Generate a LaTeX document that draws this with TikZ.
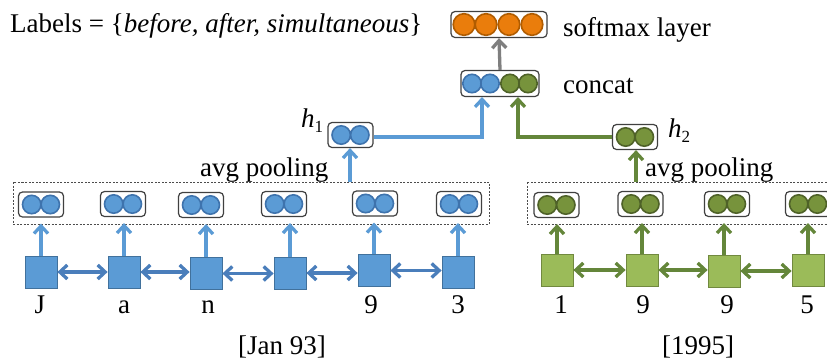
\documentclass[tikz,border=0pt]{standalone}
\usepackage{fontspec}
\setmainfont{Liberation Serif}
\usetikzlibrary{arrows.meta}
\definecolor{blueF}{HTML}{5B9BD5}
\definecolor{blueD}{HTML}{41719C}
\definecolor{blueA}{HTML}{4A7EBB}
\definecolor{blueC}{HTML}{3E73AD}
\definecolor{greenF}{HTML}{9BBB59}
\definecolor{greenD}{HTML}{71893F}
\definecolor{greenA}{HTML}{64863A}
\definecolor{greenC}{HTML}{77933C}
\definecolor{greenCD}{HTML}{4F6228}
\definecolor{orF}{HTML}{EA7D0C}
\definecolor{orD}{HTML}{B05C00}
\definecolor{grayA}{HTML}{7F7F7F}
\tikzset{
  txt/.style={font=\fontsize{27}{30}\selectfont, inner sep=0pt, anchor=base},
  vbox/.style={draw=black!75, fill=white, rounded corners=4pt, line width=1.2pt, minimum height=25pt, inner sep=0pt},
  pairbox/.style={vbox, minimum width=45pt},
  sqb/.style={draw=blueD, fill=blueF, line width=0.8pt, minimum size=32pt, inner sep=0pt},
  sqg/.style={draw=greenD, fill=greenF, line width=0.8pt, minimum size=32pt, inner sep=0pt},
  tip/.style={-{Straight Barb[length=7.5pt,width=14pt]}},
  dtip/.style={{Straight Barb[length=7.5pt,width=14pt]}-{Straight Barb[length=7.5pt,width=14pt]}},
  arr/.style={line width=3.3pt, tip},
  darr/.style={line width=3.3pt, dtip},
  dbox/.style={draw=black!70, line width=0.9pt, dash pattern=on 2pt off 1.5pt},
  cb/.style={fill=blueF, draw=blueC, line width=1.6pt},
  cg/.style={fill=greenC, draw=greenCD, line width=1.6pt},
  co/.style={fill=orF, draw=orD, line width=1.6pt},
}
% pair box with two circles
\newcommand\vecpair[4]{% name, x, y, circle style
  \node[pairbox] (#1) at (#2,#3) {};
  \path[#4] (#2-9.3,#3) circle[radius=9.2pt] (#2+9.3,#3) circle[radius=9.2pt];
}
\begin{document}
\begin{tikzpicture}[x=1pt,y=-1pt]
\useasboundingbox (0,0) rectangle (827,360);
\clip (0,0) rectangle (827,360);

% title
\node[txt, anchor=base west] (lab) at (10,32) {Labels = \{\textit{before, after, simultaneous}\}};

% softmax
\node[vbox, minimum width=96pt, minimum height=26pt] (soft) at (499,24.5) {};
\foreach \cx in {464,486,509,532} \path[co] (\cx,24.5) circle[radius=10.8pt];
\node[txt, anchor=base west] (softl) at (563,36) {softmax layer};

% concat
\node[vbox, minimum width=78pt, minimum height=26pt] (cat) at (500,83.5) {};
\path[cb] (472,83.5) circle[radius=9.2pt] (490,83.5) circle[radius=9.2pt];
\path[cg] (510,83.5) circle[radius=9.2pt] (528,83.5) circle[radius=9.2pt];
\node[txt, anchor=base west] (catl) at (563,93) {concat};
\draw[arr, grayA] (cat.north) -- (soft.south);

% h1, h2
\vecpair{h1}{350.5}{135}{cb}
\vecpair{h2}{635}{137}{cg}
\node[txt, anchor=base west] (h1l) at (301,127) {\textit{h}\raisebox{-5pt}{\fontsize{17}{18}\selectfont 1}};
\node[txt, anchor=base west] (h2l) at (668,137) {\textit{h}\raisebox{-5pt}{\fontsize{17}{18}\selectfont 2}};

\coordinate (c1) at (482,97);
\coordinate (c2) at (518,97);
\draw[arr, blueF] (h1.east |- 0,137) -| (c1);
\draw[arr, greenA] (h2.west) -| (c2);

% avg pooling
\node[txt, anchor=base west] (avg1) at (200,176) {avg pooling};
\node[txt, anchor=base west] (avg2) at (645,176) {avg pooling};

% dashed boxes
\draw[dbox] (13,182) rectangle (489,224);
\draw[dbox] (527,182) rectangle (850,224);
\coordinate (p1) at (350,182);
\coordinate (p2) at (636,182);
\draw[arr, blueF] (p1) -- (h1.south -| p1);
\draw[arr, greenA] (p2) -- (h2.south -| p2);

% left sequence
\vecpair{b1}{41}{204.5}{cb}
\vecpair{b2}{123}{204}{cb}
\vecpair{b3}{201}{205}{cb}
\vecpair{b4}{284}{204}{cb}
\vecpair{b5}{375}{203.5}{cb}
\vecpair{b6}{459}{204}{cb}
\node[sqb] (s1) at (41,272) {};
\node[sqb] (s2) at (124,272) {};
\node[sqb] (s3) at (206,273.5) {};
\node[sqb] (s4) at (290,273) {};
\node[sqb] (s5) at (374,270.5) {};
\node[sqb] (s6) at (458,272) {};
\foreach \i in {1,...,6} \draw[arr, blueF] (s\i.north) -- ([yshift=-6pt]s\i.north |- b\i.south);
\foreach \i/\j in {1/2,2/3,3/4,4/5,5/6} \draw[darr, blueA] (s\i.east) -- (s\i.east -| s\j.west);
\node[txt] (t1) at (40,313) {J};
\node[txt] (t2) at (124,313) {a};
\node[txt] (t3) at (208,313) {n};
\node[txt] (t5) at (371,313) {9};
\node[txt] (t6) at (458,313) {3};
\node[txt] (jan) at (282,354) {[Jan 93]};

% right sequence
\vecpair{g1}{556.5}{205}{cg}
\vecpair{g2}{640.5}{204}{cg}
\vecpair{g3}{727}{204}{cg}
\vecpair{g4}{808}{204}{cg}
\node[sqg] (q1) at (557,270) {};
\node[sqg] (q2) at (642,270) {};
\node[sqg] (q3) at (724,271) {};
\node[sqg] (q4) at (808,270) {};
\foreach \i in {1,...,4} \draw[arr, greenA] (q\i.north) -- ([yshift=-6pt]q\i.north |- g\i.south);
\foreach \i/\j in {1/2,2/3,3/4} \draw[darr, greenA] (q\i.east) -- (q\i.east -| q\j.west);
\node[txt] (u1) at (561,313) {1};
\node[txt] (u2) at (643,313) {9};
\node[txt] (u3) at (727,313) {9};
\node[txt] (u4) at (807,313) {5};
\node[txt] (y95) at (698,354) {[1995]};
\end{tikzpicture}
\end{document}
